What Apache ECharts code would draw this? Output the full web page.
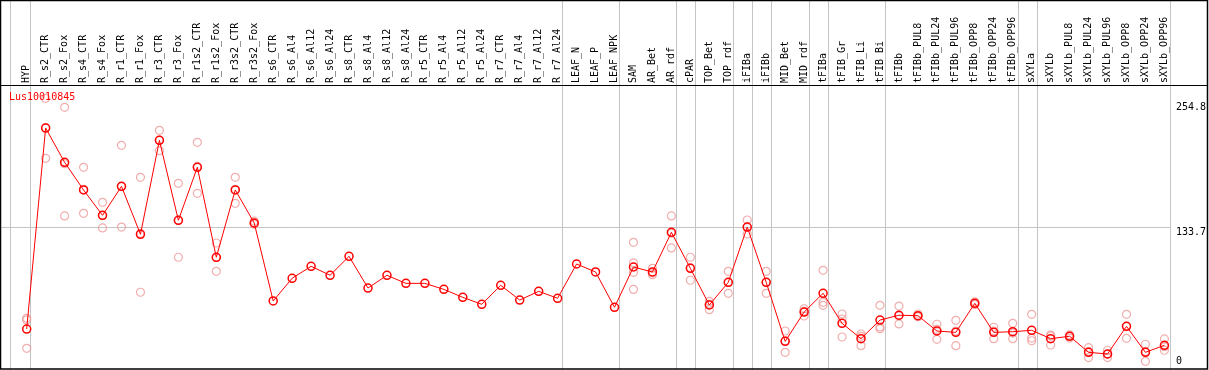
<!DOCTYPE html>
<html>
<head>
<meta charset="utf-8">
<script src="https://cdn.jsdelivr.net/npm/echarts@6/dist/echarts.min.js"></script>
<style>
html,body{margin:0;padding:0;background:#fff;}
#chart{width:1209px;height:370px;}
</style>
</head>
<body>
<div id="chart"></div>
<script>
const title = 'Lus10010845';
const categories = ['HYP','R_s2_CTR','R_s2_Fox','R_s4_CTR','R_s4_Fox','R_r1_CTR','R_r1_Fox','R_r3_CTR','R_r3_Fox','R_r1s2_CTR','R_r1s2_Fox','R_r3s2_CTR','R_r3s2_Fox','R_s6_CTR','R_s6_Al4','R_s6_Al12','R_s6_Al24','R_s8_CTR','R_s8_Al4','R_s8_Al12','R_s8_Al24','R_r5_CTR','R_r5_Al4','R_r5_Al12','R_r5_Al24','R_r7_CTR','R_r7_Al4','R_r7_Al12','R_r7_Al24','LEAF_N','LEAF_P','LEAF_NPK','SAM','AR_Bet','AR_rdf','cPAR','TOP_Bet','TOP_rdf','iFIBa','iFIBb','MID_Bet','MID_rdf','tFIBa','tFIB_Gr','tFIB_Li','tFIB_Bi','tFIBb','tFIBb_PUL8','tFIBb_PUL24','tFIBb_PUL96','tFIBb_OPP8','tFIBb_OPP24','tFIBb_OPP96','sXYLa','sXYLb','sXYLb_PUL8','sXYLb_PUL24','sXYLb_PUL96','sXYLb_OPP8','sXYLb_OPP24','sXYLb_OPP96'];
const means = [35.7,229.8,196.7,170.0,145.5,173.5,127.2,217.9,140.7,191.9,105.0,170.0,138.1,62.8,84.7,96.3,87.6,105.9,75.3,87.6,79.8,79.8,74.0,66.3,59.6,77.9,63.7,72.1,65.4,98.5,90.8,56.7,95.6,90.8,129.1,94.3,58.9,80.8,134.2,80.8,23.8,52.1,70.2,41.2,26.4,44.4,49.0,48.6,33.8,32.5,60.5,32.5,33.1,34.5,26.4,28.7,13.2,11.6,38.3,13.2,20.0];
const replicates = [
  [46.0,44.4,17.1],[258.5,230.3,200.6],[249.8,195.4,144.9],[191.9,170.7,147.4],[158.1,145.1,133.3],
  [213.1,173.2,134.2],[182.2,128.2,71.2],[227.6,218.2,207.9],[176.4,140.7,105.0],[216.0,192.9,166.8],
  [118.8,104.8,91.4],[182.2,170.7,157.1],[140.0,137.4,137.0],
  [],[],[],[],[],[],[],[],[],[],[],[],[],[],[],[],[],[],[],
  [119.4,99.5,90.5,74.0],[94.3,90.0,88.2],[144.9,128.4,114.0],[105.0,95.1,82.8],[62.5,59.8,54.4],
  [91.4,80.8,70.2],[141.0,134.1,127.5],[91.4,80.8,70.2],[33.8,24.4,13.2],[55.3,52.7,48.3],
  [92.4,61.5,58.6],[50.2,45.4,28.0],[30.9,28.7,19.6],[58.6,37.7,36.0],[57.9,48.5,40.6],
  [50.2,48.0,47.6],[40.3,35.3,25.8],[44.1,33.8,19.6],[62.0,60.0,59.5],[37.4,33.8,26.4],
  [41.2,31.8,26.4],[49.9,27.0,24.4],[29.9,29.0,20.3],[30.0,29.1,27.0],[17.7,13.8,8.1],
  [15.2,11.5,8.1],[49.9,38.3,26.7],[21.0,14.1,4.5],[26.1,18.7,15.2]
];
const yLabelValues = [133.7, 254.8];
const yZeroLabel = [0];
const gridLineValue = 133.7;
const groupEnds = ['HYP','R_r7_Al24','LEAF_NPK','AR_rdf','cPAR','TOP_rdf','iFIBa','iFIBb','MID_rdf','tFIBa','tFIB_Bi','tFIBb_OPP96','sXYLa','sXYLb_OPP96'];

// layout
const W = 1209, H = 370;
const step = 19;
const gLeft = 17.2, gTop = 85, gBottom = 4;
const gRight = W - (gLeft + step * categories.length);
const pxPerUnit = 1.0355;
const zeroY = H - gBottom;
const yMaxMain = (zeroY - gTop) / pxPerUnit;
const firstCenter = gLeft + step / 2;
const fullXMin = -firstCenter / step;
const fullXMax = (W - firstCenter) / step;
const fullYMax = zeroY / pxPerUnit;
const fullYMin = -(H - zeroY) / pxPerUnit;
const sepOffset = 4 / step;

const sepPositions = [-0.84].concat(groupEnds.map(n => categories.indexOf(n) + sepOffset));
const lastSep = categories.length - 1 + sepOffset;

const repData = [];
replicates.forEach((r, i) => r.forEach(v => repData.push([categories[i], v])));

const mono = 'DejaVu Sans Mono';
const chart = echarts.init(document.getElementById('chart'), null, {renderer: 'canvas'});
chart.setOption({
  animation: false,
  backgroundColor: '#fff',
  title: {
    text: title, left: 9, top: 92, padding: 0,
    textStyle: {color: '#ff0000', fontFamily: mono, fontSize: 10, fontWeight: 'normal'}
  },
  grid: [
    {left: gLeft, right: gRight, top: gTop, bottom: gBottom},
    {left: 0, right: 0, top: 0, bottom: 0}
  ],
  xAxis: [
    {
      type: 'category', data: categories, position: 'top', gridIndex: 0,
      boundaryGap: true,
      axisLine: {show: false}, axisTick: {show: false}, splitLine: {show: false},
      axisLabel: {rotate: 90, interval: 0, margin: 2, fontFamily: mono, fontSize: 10, color: '#000'}
    },
    {type: 'value', gridIndex: 1, min: fullXMin, max: fullXMax, show: false}
  ],
  yAxis: [
    {
      type: 'value', gridIndex: 0, position: 'right', min: 0, max: yMaxMain,
      axisLine: {show: false}, axisTick: {show: false}, splitLine: {show: false},
      axisLabel: {customValues: yLabelValues, verticalAlign: 'top', margin: 2, fontFamily: mono, fontSize: 10, color: '#000',
        formatter: v => String(v)}
    },
    {
      type: 'value', gridIndex: 0, position: 'right', min: 0, max: yMaxMain,
      axisLine: {show: false}, axisTick: {show: false}, splitLine: {show: false},
      axisLabel: {customValues: yZeroLabel, verticalAlign: 'bottom', margin: 2, fontFamily: mono, fontSize: 10, color: '#000',
        formatter: v => String(v)}
    },
    {type: 'value', gridIndex: 1, min: fullYMin, max: fullYMax, show: false}
  ],
  series: [
    {
      type: 'custom', xAxisIndex: 1, yAxisIndex: 2, z: 1, silent: true,
      data: sepPositions,
      renderItem: (params, api) => {
        const cs = params.coordSys;
        const px = Math.floor(api.coord([api.value(0), 0])[0]) + 0.5;
        return {type: 'line', shape: {x1: px, y1: cs.y, x2: px, y2: cs.y + cs.height},
          style: {stroke: '#c4c4c4', lineWidth: 1}};
      }
    },
    {
      type: 'custom', xAxisIndex: 1, yAxisIndex: 2, z: 1, silent: true,
      data: [gridLineValue],
      renderItem: (params, api) => {
        const cs = params.coordSys;
        const py = Math.floor(api.coord([0, api.value(0)])[1]) + 0.5;
        const xEnd = Math.floor(api.coord([lastSep, 0])[0]) + 0.5;
        return {type: 'line', shape: {x1: cs.x, y1: py, x2: xEnd, y2: py},
          style: {stroke: '#c4c4c4', lineWidth: 1}};
      }
    },
    {
      type: 'scatter', xAxisIndex: 0, yAxisIndex: 0, z: 2,
      data: repData, symbol: 'circle', symbolSize: 8,
      itemStyle: {color: 'rgba(0,0,0,0)', borderColor: '#ee9a9a', borderWidth: 1.2}
    },
    {
      type: 'line', xAxisIndex: 0, yAxisIndex: 0, z: 3,
      data: means, symbol: 'circle', symbolSize: 8, showAllSymbol: true,
      lineStyle: {color: '#ff0000', width: 1},
      itemStyle: {color: 'rgba(0,0,0,0)', borderColor: '#ff0000', borderWidth: 1.5}
    }
  ],
  graphic: [
    {type: 'rect', z: 100, silent: true, shape: {x: 0.5, y: 0.5, width: 1207, height: 368.5},
      style: {fill: null, stroke: '#000', lineWidth: 1.5}},
    {type: 'line', z: 100, silent: true, shape: {x1: 0, y1: 85.5, x2: 1208, y2: 85.5},
      style: {stroke: '#000', lineWidth: 1}}
  ]
});
</script>
</body>
</html>
